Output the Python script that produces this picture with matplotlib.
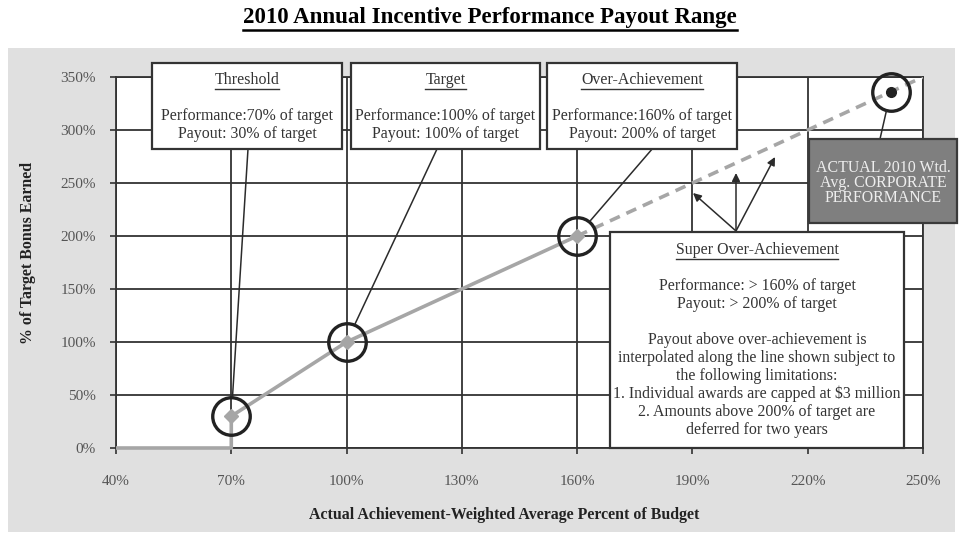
import matplotlib
matplotlib.use('Agg')
import matplotlib.pyplot as plt
from matplotlib.patches import Rectangle
import numpy as np

# payout curve (x = % of budget, y = % of target bonus)
curve_x = [40, 70, 70, 100, 160]
curve_y = [0, 0, 30, 100, 200]
key_x = [70, 100, 160]
key_y = [30, 100, 200]
super_x = [160, 250]
super_y = [200, 350]
actual_x = [241.6]
actual_y = [336]

x_ticks = [40, 70, 100, 130, 160, 190, 220, 250]
y_ticks = [0, 50, 100, 150, 200, 250, 300, 350]

title = '2010 Annual Incentive Performance Payout Range'
x_label = 'Actual Achievement-Weighted Average Percent of Budget'
y_label = '% of Target Bonus Earned'

boxes = [
    ('Threshold', ['Performance:70% of target', 'Payout: 30% of target']),
    ('Target', ['Performance:100% of target', 'Payout: 100% of target']),
    ('Over-Achievement', ['Performance:160% of target', 'Payout: 200% of target']),
]
super_head = 'Super Over-Achievement'
super_lines = ['Performance: > 160% of target', 'Payout: > 200% of target', '',
               'Payout above over-achievement is',
               'interpolated along the line shown subject to',
               'the following limitations:',
               '1. Individual awards are capped at $3 million',
               '2. Amounts above 200% of target are',
               'deferred for two years']
actual_lines = ['ACTUAL 2010 Wtd.', 'Avg. CORPORATE', 'PERFORMANCE']

W, H = 959, 533
plt.rcParams['font.family'] = ['Liberation Serif', 'DejaVu Serif']
fig = plt.figure(figsize=(W / 100, H / 100), dpi=100)
fig.patch.set_facecolor('white')

# grey panel behind the chart
fig.add_artist(Rectangle((8 / W, 1 - 532 / H), (955 - 8) / W, (532 - 48) / H,
                         transform=fig.transFigure, facecolor='#e0e0e0',
                         edgecolor='none', zorder=-1))

L, R, T, B = 116, 923, 77, 448
ax = fig.add_axes([L / W, 1 - B / H, (R - L) / W, (B - T) / H])
ax.set_facecolor('white')
ax.set_xlim(40, 250)
ax.set_ylim(0, 350)
ax.set_xticks(x_ticks)
ax.set_yticks(y_ticks)
ax.set_xticklabels(['%d%%' % v for v in x_ticks])
ax.set_yticklabels(['%d%%' % v for v in y_ticks])
ax.tick_params(direction='out', length=4.5, width=1.2, color='#333333',
               labelsize=11, labelcolor='#555555')
ax.tick_params(axis='x', pad=15)
ax.tick_params(axis='y', pad=10)
ax.grid(True, color='#333333', linewidth=1.3)
ax.set_axisbelow(True)
for s in ax.spines.values():
    s.set_color('#333333')
    s.set_linewidth(1.3)

gray = '#a6a6a6'
ax.plot(curve_x, curve_y, color=gray, lw=2.6, zorder=3, clip_on=False,
        solid_capstyle='butt')
ax.plot(super_x, super_y, color=gray, lw=2.6, ls=(0, (3, 2)), zorder=3)
ax.plot(key_x, key_y, 'D', color=gray, ms=7, zorder=3)
ax.plot(key_x + actual_x, key_y + actual_y, 'o', mfc='none', mec='#222222',
        ms=27, mew=2.4, zorder=4, clip_on=False)
ax.plot(actual_x, actual_y, 'o', color='#222222', ms=7, zorder=5)

# overlay in pixel coordinates for the call-out boxes
ov = fig.add_axes([0, 0, 1, 1], zorder=5)
ov.set_xlim(0, W)
ov.set_ylim(H, 0)
ov.axis('off')
ov.patch.set_alpha(0)


def to_px(xd, yd):
    p = ax.transData.transform((xd, yd))
    return ov.transData.inverted().transform(p)


ink = '#2b2b2b'
txt = '#333333'
fs = 11.4
headers = []


def box(x0, y0, x1, y1, fc='white', ec='#333333'):
    ov.add_patch(Rectangle((x0, y0), x1 - x0, y1 - y0, facecolor=fc,
                           edgecolor=ec, lw=1.6, zorder=6))


def connector(start, xd, yd, r=20):
    c = to_px(xd, yd)
    d = np.array(start) - c
    end = c + d / np.hypot(*d) * r
    ov.plot([start[0], end[0]], [start[1], end[1]], color=ink, lw=1.1, zorder=5)


box_pos = [(152, 342), (351, 540), (547, 737)]
box_anchor = [(248, 149), (437, 149), (653, 148)]
for (head, lines), (x0, x1), anc, kx, ky in zip(boxes, box_pos, box_anchor, key_x, key_y):
    box(x0, 63, x1, 149)
    cx = (x0 + x1) / 2
    headers.append(ov.text(cx, 80, head, ha='center', va='center',
                           fontsize=fs, color=txt, zorder=7))
    for i, ln in enumerate(lines):
        ov.text(cx, 116 + 18 * i, ln, ha='center', va='center', fontsize=fs,
                color=txt, zorder=7)
    connector(anc, kx, ky)

# super over-achievement box
box(610, 232, 904, 448)
headers.append(ov.text(757, 250, super_head, ha='center', va='center',
                       fontsize=fs, color=txt, zorder=7))
for i, ln in enumerate(super_lines):
    ov.text(757, 286 + 18 * i, ln, ha='center', va='center', fontsize=fs,
            color=txt, zorder=7)
for hx, hy in [(693, 193), (736, 173), (775, 157)]:
    ov.annotate('', xy=(hx, hy), xytext=(736, 231),
                arrowprops=dict(arrowstyle='-|>', color=ink, lw=1.1,
                                mutation_scale=12, shrinkA=0, shrinkB=0),
                zorder=5)

# actual performance box
box(809, 139, 957, 223, fc='#7f7f7f', ec='#3a3a3a')
for i, ln in enumerate(actual_lines):
    ov.text(883, 168 + 15 * i, ln, ha='center', va='center', fontsize=fs,
            color='#eeeeee', zorder=7)
connector((880, 139), actual_x[0], actual_y[0])

# titles and axis labels
t = ov.text(490, 18, title, ha='center', va='center', fontsize=16.5,
            fontweight='bold', color='black')
ov.text(504, 515, x_label, ha='center', va='center', fontsize=11.4,
        fontweight='bold', color='#222222')
ov.text(28, 253, y_label, ha='center', va='center', rotation=90,
        fontsize=11.4, fontweight='bold', color='#222222')

# underlines
fig.canvas.draw()
inv = ov.transData.inverted()
for h, lw, c in [(t, 1.8, 'black')] + [(hh, 1.0, txt) for hh in headers]:
    bb = h.get_window_extent()
    (xa, ya), (xb, yb) = inv.transform([[bb.x0, bb.y0], [bb.x1, bb.y1]])
    ov.plot([xa, xb], [ya + 1, ya + 1], color=c, lw=lw, zorder=7)

fig.savefig('out.png', dpi=100)
